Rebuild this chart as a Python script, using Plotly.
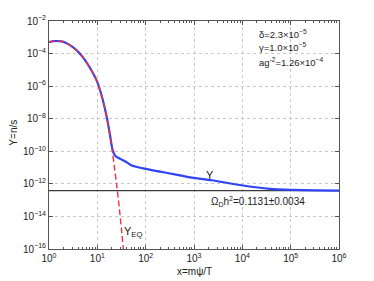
import plotly.graph_objects as go

# Equilibrium abundance Y_EQ
x_eq = [1, 1.26, 1.58, 2.0, 2.51, 3.16, 3.98, 5.01, 6.31, 7.94, 10, 12.6, 15.8,
        17.8, 20.0, 22.4, 25.1, 28.2, 31.6, 35.5]
y_eq = [5.13e-4, 5.75e-4, 5.89e-4, 5.25e-4, 3.8e-4, 2.4e-4, 1.32e-4, 6.0e-5,
        2.24e-5, 7.1e-6, 1.78e-6, 2.0e-7, 1.12e-8, 1.58e-9, 1.58e-10,
        1.26e-11, 8.9e-13, 4.5e-14, 1.58e-15, 4e-17]

x_y = [1, 1.26, 1.58, 2.0, 2.51, 3.16, 3.98, 5.01, 6.31, 7.94, 10, 12.6, 15.8,
       17.8, 19.95, 20.9, 22.1, 24.0, 26.9, 31.6, 39.8, 50.1, 100, 200, 398, 832,
       2340, 8910, 37200, 100000, 316000, 1000000]
y_y = [5.13e-4, 5.75e-4, 5.89e-4, 5.25e-4, 3.8e-4, 2.4e-4, 1.32e-4, 6.0e-5,
       2.24e-5, 7.1e-6, 1.78e-6, 2.0e-7, 1.12e-8, 1.58e-9, 2.0e-10,
       1.12e-10, 7.1e-11, 5.0e-11, 4.0e-11, 3.16e-11, 2.2e-11, 1.41e-11,
       8.3e-12, 5.6e-12, 3.8e-12, 2.5e-12, 1.66e-12, 8.5e-13, 4.9e-13,
       4.27e-13, 3.98e-13, 3.85e-13]

# Relic abundance level (Omega_D h^2)
x_relic = [1, 1000000]
y_relic = [3.8e-13, 3.8e-13]

x_ticks = [1, 10, 100, 1000, 1e4, 1e5, 1e6]
x_ticktext = ["10<sup>0</sup>", "10<sup>1</sup>", "10<sup>2</sup>", "10<sup>3</sup>",
              "10<sup>4</sup>", "10<sup>5</sup>", "10<sup>6</sup>"]
y_ticks = [1e-2, 1e-4, 1e-6, 1e-8, 1e-10, 1e-12, 1e-14, 1e-16]
y_ticktext = ["10<sup>−2</sup>", "10<sup>−4</sup>", "10<sup>−6</sup>", "10<sup>−8</sup>",
              "10<sup>−10</sup>", "10<sup>−12</sup>", "10<sup>−14</sup>", "10<sup>−16</sup>"]

FONT = "Liberation Sans, Arial, sans-serif"
TXT = "#222222"

fig = go.Figure()
fig.add_trace(go.Scatter(x=x_relic, y=y_relic, mode="lines",
                         line=dict(color="#3a3a3a", width=1.3), showlegend=False))
fig.add_trace(go.Scatter(x=x_y, y=y_y, mode="lines", line_shape="spline",
                         line=dict(color="#2f44f5", width=2.2, smoothing=0.6),
                         showlegend=False))
fig.add_trace(go.Scatter(x=x_eq, y=y_eq, mode="lines", line_shape="spline",
                         line=dict(color="#f03040", width=1.4, dash="6px,3px",
                                   smoothing=0.6),
                         showlegend=False))

axis_common = dict(type="log", showline=True, linecolor="#555555", linewidth=1,
                   mirror="allticks", ticks="inside", ticklen=4, tickcolor="#555555",
                   showgrid=True, gridcolor="#c8c8c8", griddash="dot", gridwidth=1,
                   zeroline=False, automargin=False,
                   tickfont=dict(size=10, color=TXT, family=FONT))

fig.update_xaxes(range=[0, 6], tickvals=x_ticks, ticktext=x_ticktext,
                 minor=dict(ticks="inside", ticklen=2, tickcolor="#555555",
                            dtick="D1", showgrid=False),
                 **axis_common)
fig.update_yaxes(range=[-16, -2], tickvals=y_ticks, ticktext=y_ticktext,
                 **axis_common)

ann_font = dict(size=9.5, family=FONT, color=TXT)
annotations = [
    dict(xref="paper", yref="paper", x=0.5, y=-0.0965, text="x=mψ/T",
         xanchor="center", yanchor="middle", showarrow=False,
         font=dict(size=10, family=FONT, color=TXT)),
    dict(xref="paper", yref="paper", x=-0.121, y=0.51, text="Y=n/s", textangle=-90,
         xanchor="center", yanchor="middle", showarrow=False,
         font=dict(size=10, family=FONT, color=TXT)),
    dict(xref="paper", yref="paper", x=0.716, y=0.945, text="δ=2.3×10<sup>−5</sup>",
         xanchor="left", yanchor="middle", showarrow=False, font=ann_font),
    dict(xref="paper", yref="paper", x=0.716, y=0.884, text="γ=1.0×10<sup>−5</sup>",
         xanchor="left", yanchor="middle", showarrow=False, font=ann_font),
    dict(xref="paper", yref="paper", x=0.716, y=0.819, text="ag<sup>-2</sup>=1.26×10<sup>−4</sup>",
         xanchor="left", yanchor="middle", showarrow=False, font=ann_font),
    dict(x=3.33, y=-11.45, text="Y", xanchor="center", yanchor="middle",
         showarrow=False, font=dict(size=11, family=FONT, color=TXT)),
    dict(x=3.31, y=-13.1, text="Ω<sub>D</sub>h<sup>2</sup>=0.1131±0.0034",
         xanchor="left", yanchor="middle", showarrow=False,
         font=dict(size=10, family=FONT, color=TXT)),
    dict(x=1.52, y=-14.95, text="Y<sub>EQ</sub>", xanchor="left", yanchor="middle",
         showarrow=False, font=dict(size=11, family=FONT, color=TXT)),
]

# The page body adds an 8px offset; the figure is sized to compensate so the
# plot area lands at the same place as in the reference.
fig.update_layout(width=366, height=273, margin=dict(l=41, r=35, t=13, b=32, pad=0),
                  plot_bgcolor="white", paper_bgcolor="white",
                  annotations=annotations, font=dict(family=FONT))

fig.write_html("out.html")
